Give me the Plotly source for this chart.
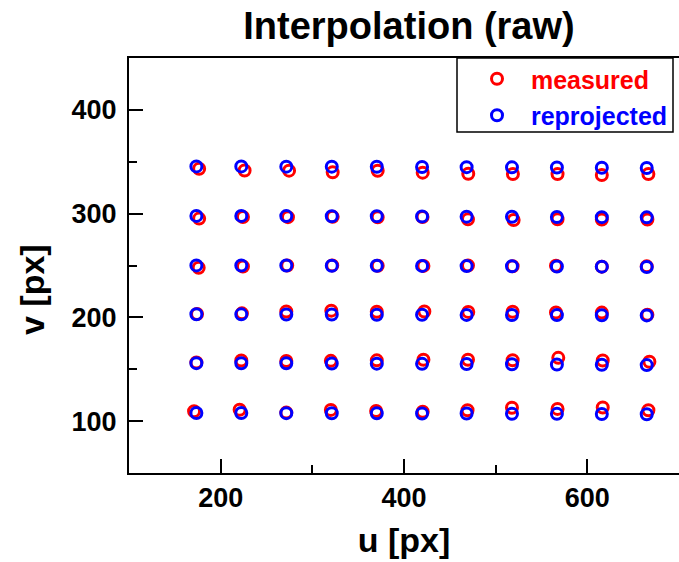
import plotly.graph_objects as go

# reprojected grid: u per column, v per row (one list per row)
blue_u = [173.5, 222.5, 271.6, 321.2, 370.3, 419.7, 468.3, 517.8, 566.8, 615.8, 664.8]
blue_v_rows = [
    [345.5, 345.5, 345.3, 345.3, 345.2, 345.0, 344.8, 344.6, 344.5, 344.2, 344.0],
    [297.8, 297.8, 297.6, 297.5, 297.4, 297.3, 297.1, 297.0, 296.8, 296.6, 296.4],
    [250.1, 250.0, 250.0, 249.8, 249.7, 249.6, 249.4, 249.3, 249.1, 248.9, 248.6],
    [203.0, 202.9, 202.8, 202.7, 202.6, 202.5, 202.4, 202.3, 202.2, 202.0, 201.9],
    [155.9, 155.8, 155.7, 155.5, 155.4, 155.2, 155.0, 154.8, 154.6, 154.3, 154.0],
    [107.9, 107.8, 107.7, 107.6, 107.5, 107.4, 107.3, 107.1, 107.0, 106.8, 106.6],
]

# measured points, one list per row
red_u_rows = [
    [176.5, 226.1, 274.6, 322.2, 371.3, 420.4, 470.1, 518.8, 567.5, 615.8, 666.6],
    [176.5, 224.3, 273.4, 322.2, 371.3, 420.2, 469.8, 519.6, 567.5, 615.8, 665.5],
    [176.0, 224.3, 272.6, 321.7, 371.3, 421.2, 469.8, 518.5, 565.8, 615.8, 664.8],
    [174.2, 223.2, 271.6, 320.7, 370.3, 422.2, 470.1, 518.5, 565.8, 615.8, 665.5],
    [173.5, 222.5, 271.6, 320.2, 370.3, 421.2, 469.8, 518.5, 568.3, 616.8, 667.7],
    [171.0, 220.7, 271.6, 320.2, 369.6, 420.4, 469.3, 517.8, 567.5, 616.8, 666.6],
]
red_v_rows = [
    [343.3, 341.6, 341.4, 339.8, 341.3, 339.5, 338.4, 338.2, 338.1, 337.2, 338.2],
    [295.2, 296.8, 296.6, 296.9, 296.4, 296.7, 294.5, 293.8, 294.6, 294.4, 294.4],
    [247.9, 249.0, 250.0, 250.1, 249.7, 249.6, 250.0, 249.3, 249.7, 248.9, 249.2],
    [203.3, 203.9, 205.6, 206.5, 205.4, 205.7, 205.3, 205.5, 204.8, 204.6, 202.5],
    [156.5, 158.4, 157.9, 158.1, 158.6, 159.1, 159.2, 158.7, 161.0, 158.5, 157.2],
    [109.5, 111.0, 108.2, 110.8, 109.7, 109.0, 110.5, 112.9, 111.8, 113.2, 110.5],
]

x_tickvals = [200, 400, 600]
y_tickvals = [100, 200, 300, 400]

red_x = [u for row in red_u_rows for u in row]
red_y = [v for row in red_v_rows for v in row]
blue_x = [u for row in blue_v_rows for u in blue_u]
blue_y = [v for row in blue_v_rows for v in row]

FONT = "Liberation Sans, Arial, sans-serif"
L, R, T, B = 129, 0, 58, 89
W, H = 679, 562
pw, ph = W - L - R, H - T - B

fig = go.Figure()
fig.add_trace(go.Scatter(
    x=red_x, y=red_y, mode="markers",
    name='\u00a0\u00a0<span style="color:#ff0000"><b>measured</b></span>',
    legendgroup="a",
    marker=dict(symbol="circle-open", size=11, color="#ff0000",
                line=dict(width=3, color="#ff0000")),
))
fig.add_trace(go.Scatter(
    x=blue_x, y=blue_y, mode="markers",
    name='\u00a0\u00a0<span style="color:#0000ff"><b>reprojected</b></span>',
    legendgroup="b",
    marker=dict(symbol="circle-open", size=11, color="#0000ff",
                line=dict(width=3, color="#0000ff")),
))

axis_common = dict(
    showgrid=False, zeroline=False, showline=True, linecolor="black",
    linewidth=2, ticks="inside", ticklen=14, tickwidth=2, tickcolor="black",
    tickfont=dict(family=FONT, size=27, color="black", weight="bold"),
)
fig.update_xaxes(range=[100, 700], tickvals=x_tickvals, mirror=True,
                 minor=dict(ticks="inside", ticklen=8, tickwidth=2, dtick=100,
                            tick0=100, tickcolor="black"),
                 title=dict(text="<b>u [px]</b>", font=dict(family=FONT, size=34, color="black"),
                            standoff=16),
                 **axis_common)
fig.update_yaxes(range=[50, 450], tickvals=y_tickvals, ticklabelstandoff=5,
                 minor=dict(ticks="inside", ticklen=8, tickwidth=2, dtick=50,
                            tick0=50, tickcolor="black"),
                 **axis_common)

# legend frame
fig.add_shape(type="rect", xref="paper", yref="paper",
              x0=(457 - L) / pw, x1=(673 - L) / pw,
              y0=(H - B - 132) / ph, y1=1.0,
              line=dict(color="black", width=1.5))

fig.add_annotation(text="<b>v [px]</b>", xref="paper", yref="paper",
                   x=-(L - 32) / pw, y=(H - B - 290) / ph, textangle=-90,
                   showarrow=False, xanchor="center", yanchor="middle",
                   font=dict(family=FONT, size=34, color="black"))

fig.update_layout(
    width=W, height=H,
    margin=dict(l=L, r=R, t=T, b=B),
    paper_bgcolor="white", plot_bgcolor="white",
    title=dict(text="<b>Interpolation (raw)</b>", x=409 / W, xanchor="center",
               y=1 - 26 / H, yanchor="middle", yref="container",
               font=dict(family=FONT, size=38, color="black")),
    showlegend=True,
    legend=dict(x=(477 - L) / pw, xanchor="left", y=1 + 2 / ph, yanchor="top",
                bgcolor="rgba(0,0,0,0)", borderwidth=0, tracegroupgap=1,
                font=dict(family=FONT, size=25)),
)

fig.write_html("out.html")
